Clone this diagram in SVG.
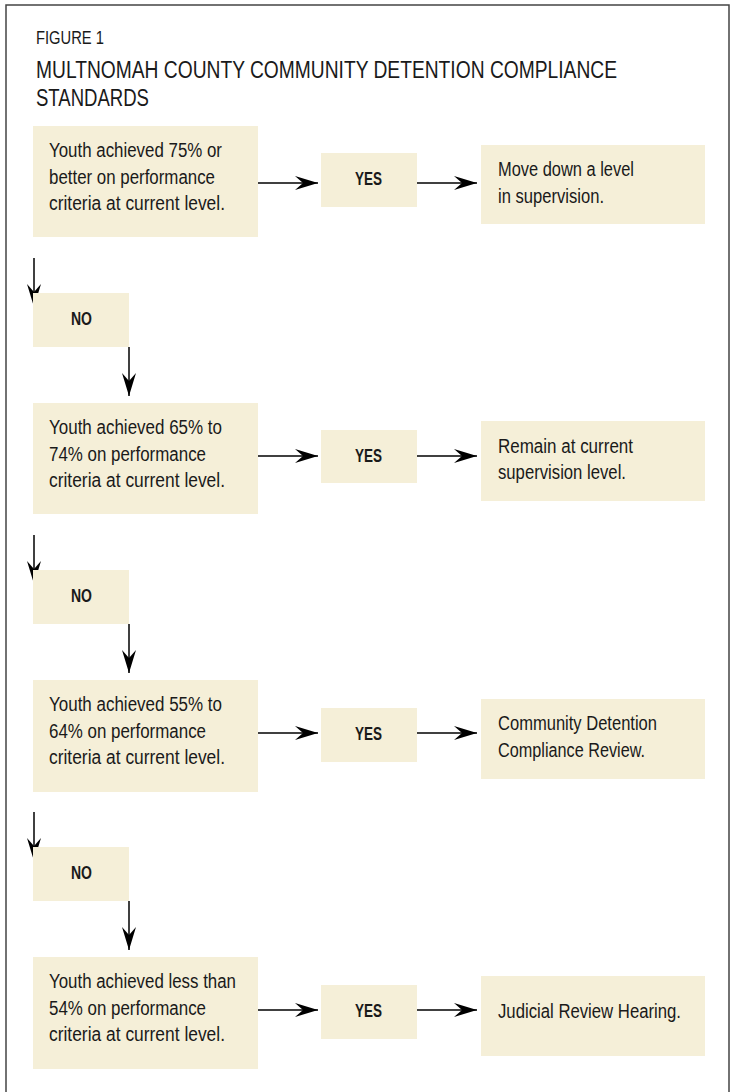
<svg xmlns="http://www.w3.org/2000/svg" width="734" height="1092" viewBox="0 0 734 1092">
<style>
.box{fill:#F5EFD8;}
.t{font-family:"Liberation Sans",Arial,sans-serif;font-size:20px;fill:#1a1a1a;}
.b{font-family:"Liberation Sans",Arial,sans-serif;font-size:19px;font-weight:bold;fill:#1a1a1a;}
.h{font-family:"Liberation Sans",Arial,sans-serif;fill:#1a1a1a;}
.c{stroke:#000;stroke-width:1.5;fill:none;marker-end:url(#ah);}
</style>
<defs>
<marker id="ah" viewBox="-24 -8 25 16" refX="0" refY="0" markerWidth="25" markerHeight="16" markerUnits="userSpaceOnUse" orient="auto">
<path d="M0,0 L-23,-7 L-15,0 L-23,7 Z" fill="#000"/>
</marker>
</defs>
<rect x="0" y="0" width="734" height="1092" fill="#fff"/>
<path d="M6,1092 V5 H729 V1092" fill="none" stroke="#444" stroke-width="1.5"/>
<g id="title">
<text class="h" x="36" y="44" font-size="18" textLength="68" lengthAdjust="spacingAndGlyphs">FIGURE 1</text>
<text class="h" x="36" y="78" font-size="23" textLength="581" lengthAdjust="spacingAndGlyphs">MULTNOMAH COUNTY COMMUNITY DETENTION COMPLIANCE</text>
<text class="h" x="36" y="106" font-size="23" textLength="113" lengthAdjust="spacingAndGlyphs">STANDARDS</text>
</g>
<g id="connectors">
<line class="c" x1="258" y1="183" x2="318" y2="183"/>
<line class="c" x1="417" y1="183" x2="477" y2="183"/>
<line class="c" x1="258" y1="456" x2="318" y2="456"/>
<line class="c" x1="417" y1="456" x2="477" y2="456"/>
<line class="c" x1="258" y1="733" x2="318" y2="733"/>
<line class="c" x1="417" y1="733" x2="477" y2="733"/>
<line class="c" x1="258" y1="1010" x2="318" y2="1010"/>
<line class="c" x1="417" y1="1010" x2="477" y2="1010"/>
<line class="c" x1="34" y1="258" x2="34" y2="307"/>
<line class="c" x1="129" y1="347" x2="129" y2="396"/>
<line class="c" x1="34" y1="535" x2="34" y2="584"/>
<line class="c" x1="129" y1="624" x2="129" y2="673"/>
<line class="c" x1="34" y1="812" x2="34" y2="861"/>
<line class="c" x1="129" y1="901" x2="129" y2="950"/>
</g>
<g id="q1">
<rect class="box" x="33" y="126" width="225" height="111"/>
<text class="t" x="49" y="157" textLength="173" lengthAdjust="spacingAndGlyphs">Youth achieved 75% or</text>
<text class="t" x="49" y="184" textLength="166" lengthAdjust="spacingAndGlyphs">better on performance</text>
<text class="t" x="49" y="210" textLength="176" lengthAdjust="spacingAndGlyphs">criteria at current level.</text>
</g>
<g id="yes1">
<rect class="box" x="321" y="153" width="96" height="54"/>
<text class="b" x="355" y="185" textLength="27" lengthAdjust="spacingAndGlyphs">YES</text>
</g>
<g id="r1">
<rect class="box" x="481" y="145" width="224" height="79"/>
<text class="t" x="498" y="176" textLength="136" lengthAdjust="spacingAndGlyphs">Move down a level</text>
<text class="t" x="498" y="203" textLength="106" lengthAdjust="spacingAndGlyphs">in supervision.</text>
</g>
<g id="no1">
<rect class="box" x="33" y="293" width="96" height="54"/>
<text class="b" x="71" y="325" textLength="21" lengthAdjust="spacingAndGlyphs">NO</text>
</g>
<g id="q2">
<rect class="box" x="33" y="403" width="225" height="111"/>
<text class="t" x="49" y="434" textLength="173" lengthAdjust="spacingAndGlyphs">Youth achieved 65% to</text>
<text class="t" x="49" y="461" textLength="157" lengthAdjust="spacingAndGlyphs">74% on performance</text>
<text class="t" x="49" y="487" textLength="176" lengthAdjust="spacingAndGlyphs">criteria at current level.</text>
</g>
<g id="yes2">
<rect class="box" x="321" y="430" width="96" height="53"/>
<text class="b" x="355" y="462" textLength="27" lengthAdjust="spacingAndGlyphs">YES</text>
</g>
<g id="r2">
<rect class="box" x="481" y="421" width="224" height="80"/>
<text class="t" x="498" y="453" textLength="135" lengthAdjust="spacingAndGlyphs">Remain at current</text>
<text class="t" x="498" y="479" textLength="128" lengthAdjust="spacingAndGlyphs">supervision level.</text>
</g>
<g id="no2">
<rect class="box" x="33" y="570" width="96" height="54"/>
<text class="b" x="71" y="602" textLength="21" lengthAdjust="spacingAndGlyphs">NO</text>
</g>
<g id="q3">
<rect class="box" x="33" y="680" width="225" height="112"/>
<text class="t" x="49" y="711" textLength="173" lengthAdjust="spacingAndGlyphs">Youth achieved 55% to</text>
<text class="t" x="49" y="738" textLength="157" lengthAdjust="spacingAndGlyphs">64% on performance</text>
<text class="t" x="49" y="764" textLength="176" lengthAdjust="spacingAndGlyphs">criteria at current level.</text>
</g>
<g id="yes3">
<rect class="box" x="321" y="708" width="96" height="54"/>
<text class="b" x="355" y="740" textLength="27" lengthAdjust="spacingAndGlyphs">YES</text>
</g>
<g id="r3">
<rect class="box" x="481" y="699" width="224" height="80"/>
<text class="t" x="498" y="730" textLength="159" lengthAdjust="spacingAndGlyphs">Community Detention</text>
<text class="t" x="498" y="757" textLength="147" lengthAdjust="spacingAndGlyphs">Compliance Review.</text>
</g>
<g id="no3">
<rect class="box" x="33" y="847" width="96" height="54"/>
<text class="b" x="71" y="879" textLength="21" lengthAdjust="spacingAndGlyphs">NO</text>
</g>
<g id="q4">
<rect class="box" x="33" y="957" width="225" height="112"/>
<text class="t" x="49" y="988" textLength="187" lengthAdjust="spacingAndGlyphs">Youth achieved less than</text>
<text class="t" x="49" y="1015" textLength="157" lengthAdjust="spacingAndGlyphs">54% on performance</text>
<text class="t" x="49" y="1041" textLength="176" lengthAdjust="spacingAndGlyphs">criteria at current level.</text>
</g>
<g id="yes4">
<rect class="box" x="321" y="985" width="96" height="54"/>
<text class="b" x="355" y="1017" textLength="27" lengthAdjust="spacingAndGlyphs">YES</text>
</g>
<g id="r4">
<rect class="box" x="481" y="976" width="224" height="80"/>
<text class="t" x="498" y="1018" textLength="183" lengthAdjust="spacingAndGlyphs">Judicial Review Hearing.</text>
</g>
</svg>
